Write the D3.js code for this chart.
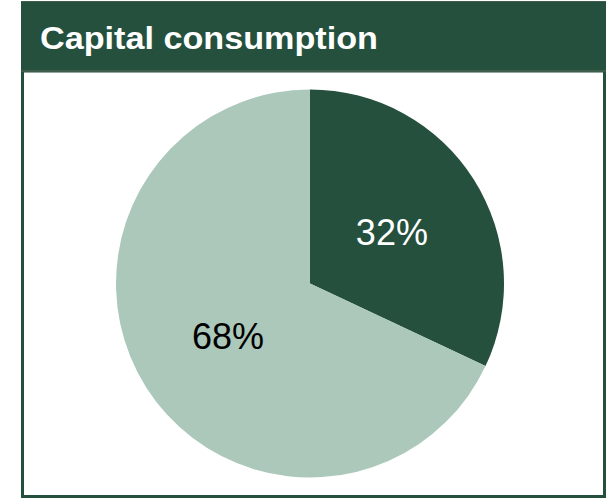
<!DOCTYPE html>
<html>
<head>
<meta charset="utf-8">
<script src="https://cdn.jsdelivr.net/npm/d3@7"></script>
<style>
  html, body { margin: 0; padding: 0; background: #ffffff; }
  svg { display: block; }
</style>
</head>
<body>
<svg id="chart" width="608" height="499"></svg>
<script>
// Share of capital consumption
const categories = ["Share A", "Share B"];
const values = [32, 68];
const labels = ["32%", "68%"];
const colors = ["#24503d", "#abc8bb"];
const labelColors = ["#ffffff", "#000000"];
const title = "Capital consumption";

const svg = d3.select("#chart");
const frameColor = "#24503d";

// Panel body with dark border
svg.append("rect")
  .attr("x", 22.5).attr("y", 71)
  .attr("width", 582).attr("height", 425.5)
  .attr("fill", "#ffffff")
  .attr("stroke", frameColor)
  .attr("stroke-width", 3);

// Header band
svg.append("rect")
  .attr("x", 21).attr("y", 1)
  .attr("width", 585).attr("height", 71)
  .attr("fill", frameColor);
svg.append("line")
  .attr("x1", 21).attr("x2", 606).attr("y1", 1.5).attr("y2", 1.5)
  .attr("stroke", "#3e5d4b").attr("stroke-width", 1);
svg.append("line")
  .attr("x1", 21).attr("x2", 606).attr("y1", 71).attr("y2", 71)
  .attr("stroke", "#3e5d4b").attr("stroke-width", 2);

svg.append("text")
  .attr("x", 40).attr("y", 49)
  .attr("fill", "#ffffff")
  .attr("font-family", "Liberation Sans, Arial, sans-serif")
  .attr("font-weight", "bold")
  .attr("font-size", 31)
  .attr("textLength", 338)
  .attr("lengthAdjust", "spacingAndGlyphs")
  .text(title);

// Pie
const cx = 310, cy = 283.5, r = 194;
const g = svg.append("g").attr("transform", `translate(${cx},${cy})`);

const pie = d3.pie().sort(null).value(d => d.value);
const data = categories.map((c, i) => ({ name: c, value: values[i], label: labels[i], i }));
const arcs = pie(data);

const arc = d3.arc().innerRadius(0).outerRadius(r);
const labelArc = d3.arc().innerRadius(97).outerRadius(97);

g.selectAll("path.slice")
  .data(arcs)
  .join("path")
  .attr("class", "slice")
  .attr("d", arc)
  .attr("fill", d => colors[d.data.i]);

g.selectAll("text.lbl")
  .data(arcs)
  .join("text")
  .attr("class", "lbl")
  .attr("transform", d => {
    const [x, y] = labelArc.centroid(d);
    return `translate(${x},${y + 13.5})`;
  })
  .attr("text-anchor", "middle")
  .attr("font-family", "Liberation Sans, Arial, sans-serif")
  .attr("font-size", 36)
  .attr("fill", d => labelColors[d.data.i])
  .text(d => d.data.label);
</script>
</body>
</html>
